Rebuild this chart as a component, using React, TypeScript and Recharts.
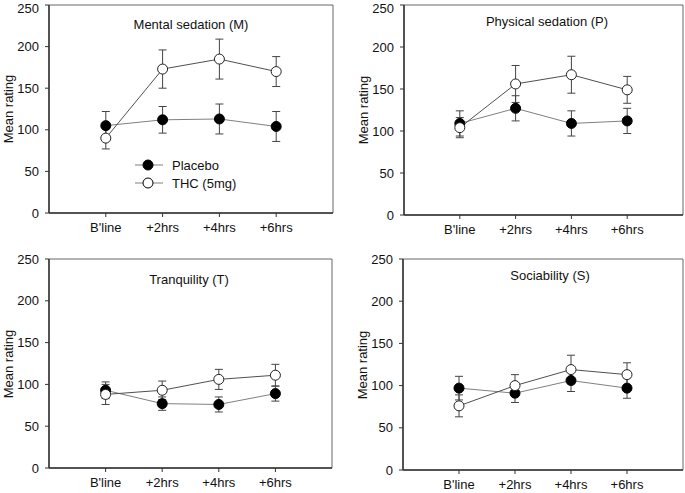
import { LineChart, Line, XAxis, YAxis, ErrorBar, ReferenceArea } from "recharts";

const timepoints = ["B'line", "+2hrs", "+4hrs", "+6hrs"];
const yTicks = [0, 50, 100, 150, 200, 250];

// Mental sedation (M)
const mPlacebo = [105, 112, 113, 104];
const mPlaceboErr = [17, 16, 18, 18];
const mThc = [90, 173, 185, 170];
const mThcErr = [13, 23, 24, 18];

// Physical sedation (P)
const pPlacebo = [109, 127, 109, 112];
const pPlaceboErr = [15, 15, 15, 15];
const pThc = [104, 156, 167, 149];
const pThcErr = [12, 22, 22, 16];

// Tranquility (T)
const tPlacebo = [93, 77, 76, 89];
const tPlaceboErr = [10, 8, 9, 9];
const tThc = [88, 93, 106, 111];
const tThcErr = [12, 11, 12, 13];

// Sociability (S)
const sPlacebo = [97, 91, 106, 97];
const sPlaceboErr = [14, 11, 13, 12];
const sThc = [76, 100, 119, 113];
const sThcErr = [13, 13, 17, 14];

const FONT = "Arial, 'Liberation Sans', sans-serif";

type PanelProps = {
  title: string;
  placebo: number[];
  placeboErr: number[];
  thc: number[];
  thcErr: number[];
  box: { x: number; y: number; w: number; h: number };
  plot: { l: number; r: number; t: number; b: number };
  titlePos: { x: number; y: number };
  legend?: boolean;
};

function Panel({ title, placebo, placeboErr, thc, thcErr, box, plot, titlePos, legend }: PanelProps) {
  const data = timepoints.map((t, i) => ({
    x: i,
    placebo: placebo[i],
    placeboErr: placeboErr[i],
    thc: thc[i],
    thcErr: thcErr[i],
  }));
  const yAxisW = 40;
  const xAxisH = 30;
  const margin = {
    top: plot.t - box.y,
    right: box.x + box.w - plot.r,
    bottom: box.y + box.h - plot.b - xAxisH,
    left: plot.l - box.x - yAxisW,
  };
  const tick = { fontSize: 13, fill: "#111", fontFamily: FONT };

  return (
    <div style={{ position: "absolute", left: box.x, top: box.y, width: box.w, height: box.h }}>
      <LineChart width={box.w} height={box.h} data={data} margin={margin}>
        <ReferenceArea x1={-1} x2={4} y1={0} y2={250} fill="none" stroke="#666" strokeWidth={1} />
        <XAxis
          type="number"
          dataKey="x"
          domain={[-1, 4]}
          ticks={[0, 1, 2, 3]}
          tickFormatter={(v: number) => timepoints[v]}
          height={xAxisH}
          tickSize={4}
          tickMargin={6}
          tick={tick}
          axisLine={{ stroke: "#333", strokeWidth: 1.5 }}
          tickLine={{ stroke: "#333" }}
        />
        <YAxis
          domain={[0, 250]}
          ticks={yTicks}
          width={yAxisW}
          tickSize={4}
          tickMargin={6}
          tick={tick}
          axisLine={{ stroke: "#333", strokeWidth: 1.5 }}
          tickLine={{ stroke: "#333" }}
        />
        <Line
          dataKey="placebo"
          type="linear"
          stroke="#808080"
          strokeWidth={1}
          dot={{ r: 5, fill: "#000", stroke: "#000", strokeWidth: 1 }}
          activeDot={false}
          isAnimationActive={false}
        >
          <ErrorBar dataKey="placeboErr" direction="y" width={4} stroke="#444" strokeWidth={1} />
        </Line>
        <Line
          dataKey="thc"
          type="linear"
          stroke="#505050"
          strokeWidth={1}
          dot={{ r: 5, fill: "#fff", stroke: "#222", strokeWidth: 1 }}
          activeDot={false}
          isAnimationActive={false}
        >
          <ErrorBar dataKey="thcErr" direction="y" width={4} stroke="#444" strokeWidth={1} />
        </Line>
      </LineChart>
      <div
        style={{
          position: "absolute",
          left: titlePos.x - box.x,
          top: titlePos.y - box.y,
          transform: "translate(-50%, -50%)",
          whiteSpace: "nowrap",
          fontFamily: FONT,
          fontSize: 13,
          color: "#111",
        }}
      >
        {title}
      </div>
      <div
        style={{
          position: "absolute",
          left: plot.l - box.x - 41,
          top: (plot.t + plot.b) / 2 - box.y,
          transform: "translate(-50%, -50%) rotate(-90deg)",
          whiteSpace: "nowrap",
          fontFamily: FONT,
          fontSize: 13,
          color: "#111",
        }}
      >
        Mean rating
      </div>
      {legend && (
        <div style={{ position: "absolute", left: 130 - box.x, top: 156 - box.y, fontFamily: FONT, fontSize: 13, color: "#111" }}>
          {[
            { name: "Placebo", fill: "#000" },
            { name: "THC (5mg)", fill: "#fff" },
          ].map((s) => (
            <div key={s.name} style={{ display: "flex", alignItems: "center", height: 18 }}>
              <svg width={38} height={14}>
                <line x1={5} y1={7} x2={33} y2={7} stroke="#808080" />
                <circle cx={18} cy={7} r={5} fill={s.fill} stroke="#000" />
              </svg>
              <span style={{ marginLeft: 4 }}>{s.name}</span>
            </div>
          ))}
        </div>
      )}
    </div>
  );
}

export default function App() {
  return (
    <div style={{ position: "absolute", left: 0, top: 0, width: 685, height: 493, background: "#fff" }}>
      <Panel
        title="Mental sedation (M)"
        placebo={mPlacebo}
        placeboErr={mPlaceboErr}
        thc={mThc}
        thcErr={mThcErr}
        box={{ x: 0, y: 0, w: 340, h: 250 }}
        plot={{ l: 49, r: 333, t: 5, b: 213 }}
        titlePos={{ x: 191, y: 24 }}
        legend
      />
      <Panel
        title="Physical sedation (P)"
        placebo={pPlacebo}
        placeboErr={pPlaceboErr}
        thc={pThc}
        thcErr={pThcErr}
        box={{ x: 345, y: 0, w: 340, h: 250 }}
        plot={{ l: 404, r: 683, t: 5, b: 215 }}
        titlePos={{ x: 547, y: 21 }}
      />
      <Panel
        title="Tranquility (T)"
        placebo={tPlacebo}
        placeboErr={tPlaceboErr}
        thc={tThc}
        thcErr={tThcErr}
        box={{ x: 0, y: 250, w: 340, h: 243 }}
        plot={{ l: 49, r: 332, t: 259, b: 468 }}
        titlePos={{ x: 189, y: 279 }}
      />
      <Panel
        title="Sociability (S)"
        placebo={sPlacebo}
        placeboErr={sPlaceboErr}
        thc={sThc}
        thcErr={sThcErr}
        box={{ x: 345, y: 250, w: 340, h: 243 }}
        plot={{ l: 403, r: 683, t: 259, b: 470 }}
        titlePos={{ x: 550, y: 275 }}
      />
    </div>
  );
}
